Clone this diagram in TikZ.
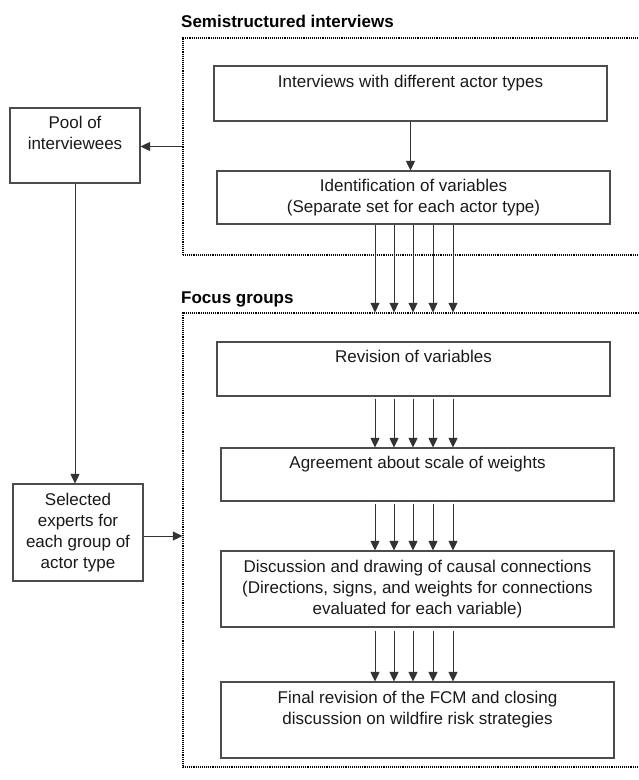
\documentclass[tikz,border=0pt]{standalone}
\usepackage{fontspec}
\setmainfont{Liberation Sans}
\usetikzlibrary{arrows.meta,calc}
\begin{document}
\begin{tikzpicture}[x=1pt,y=-1pt,
  box/.style={draw=black!70, line width=1.1pt, rectangle, inner sep=0pt, align=center,
              font=\fontsize{17}{21}\selectfont, text=black!90},
  frame/.style={draw=black, line width=1.2pt, dash pattern=on 1pt off 0.9pt, rectangle,
                inner sep=0pt, minimum width=517pt},
  arr/.style={draw=black!80, line width=0.9pt, -{Triangle[length=9.5pt,width=9pt]}},
  ttl/.style={font=\fontsize{17}{21}\selectfont\bfseries, anchor=base west, inner sep=0pt}]
\useasboundingbox (0,0) rectangle (639,780);

% dotted frames (right side runs past the page edge)
\node[frame, minimum height=217pt] (semi) at (441.5,146.5) {};
\node[frame, minimum height=454pt] (focus) at (441.5,540) {};

% titles
\node[ttl] (t1) at (181,27.5) {Semistructured interviews};
\node[ttl] (t2) at (181,303) {Focus groups};

% process boxes
\node[box, minimum width=393pt, minimum height=55pt] (interv) at (410.5,93.5)
  {\strut Interviews with different actor types\\\strut};
\node[box, minimum width=393pt, minimum height=53pt] (ident) at (413.5,197.5)
  {\strut Identification of variables\\(Separate set for each actor type)\strut};
\node[box, minimum width=393pt, minimum height=54pt] (rev) at (413.5,369)
  {\strut Revision of variables\\\strut};
\node[box, minimum width=393pt, minimum height=53pt] (agr) at (417.5,474.5)
  {\strut Agreement about scale of weights\\\strut};
\node[box, minimum width=393pt, minimum height=76pt] (disc) at (417.5,589)
  {\strut Discussion and drawing of causal connections\\(Directions, signs, and weights for connections\\evaluated for each variable)\strut};
\node[box, minimum width=393pt, minimum height=76pt] (final) at (417.5,720)
  {\strut Final revision of the FCM and closing\\discussion on wildfire risk strategies\\\strut};

% left boxes
\node[box, minimum width=130pt, minimum height=75pt] (pool) at (75,145.5)
  {\strut Pool of\\interviewees\\\strut};
\node[box, minimum width=130pt, minimum height=97pt] (sel) at (78,532.5)
  {\strut Selected\\experts for\\each group of\\actor type\strut};

% connectors
\draw[arr] (semi.west) -- (semi.west -| pool.east);
\draw[arr] (pool.south) -- (pool.south |- sel.north);
\coordinate (sa) at ([yshift=-3.5pt]sel.east);
\draw[arr] (sa) -- (sa -| focus.west);
\draw[arr] (interv.south) -- (interv.south |- ident.north);

\foreach \x in {375,394,413,433,453} {
  \draw[arr] (\x,0 |- ident.south) -- (\x,0 |- focus.north);
  \draw[arr, shorten <=2pt] (\x,0 |- rev.south) -- (\x,0 |- agr.north);
  \draw[arr, shorten <=2pt] (\x,0 |- agr.south) -- (\x,0 |- disc.north);
  \draw[arr, shorten <=3pt] (\x,0 |- disc.south) -- (\x,0 |- final.north);
}
\end{tikzpicture}
\end{document}
